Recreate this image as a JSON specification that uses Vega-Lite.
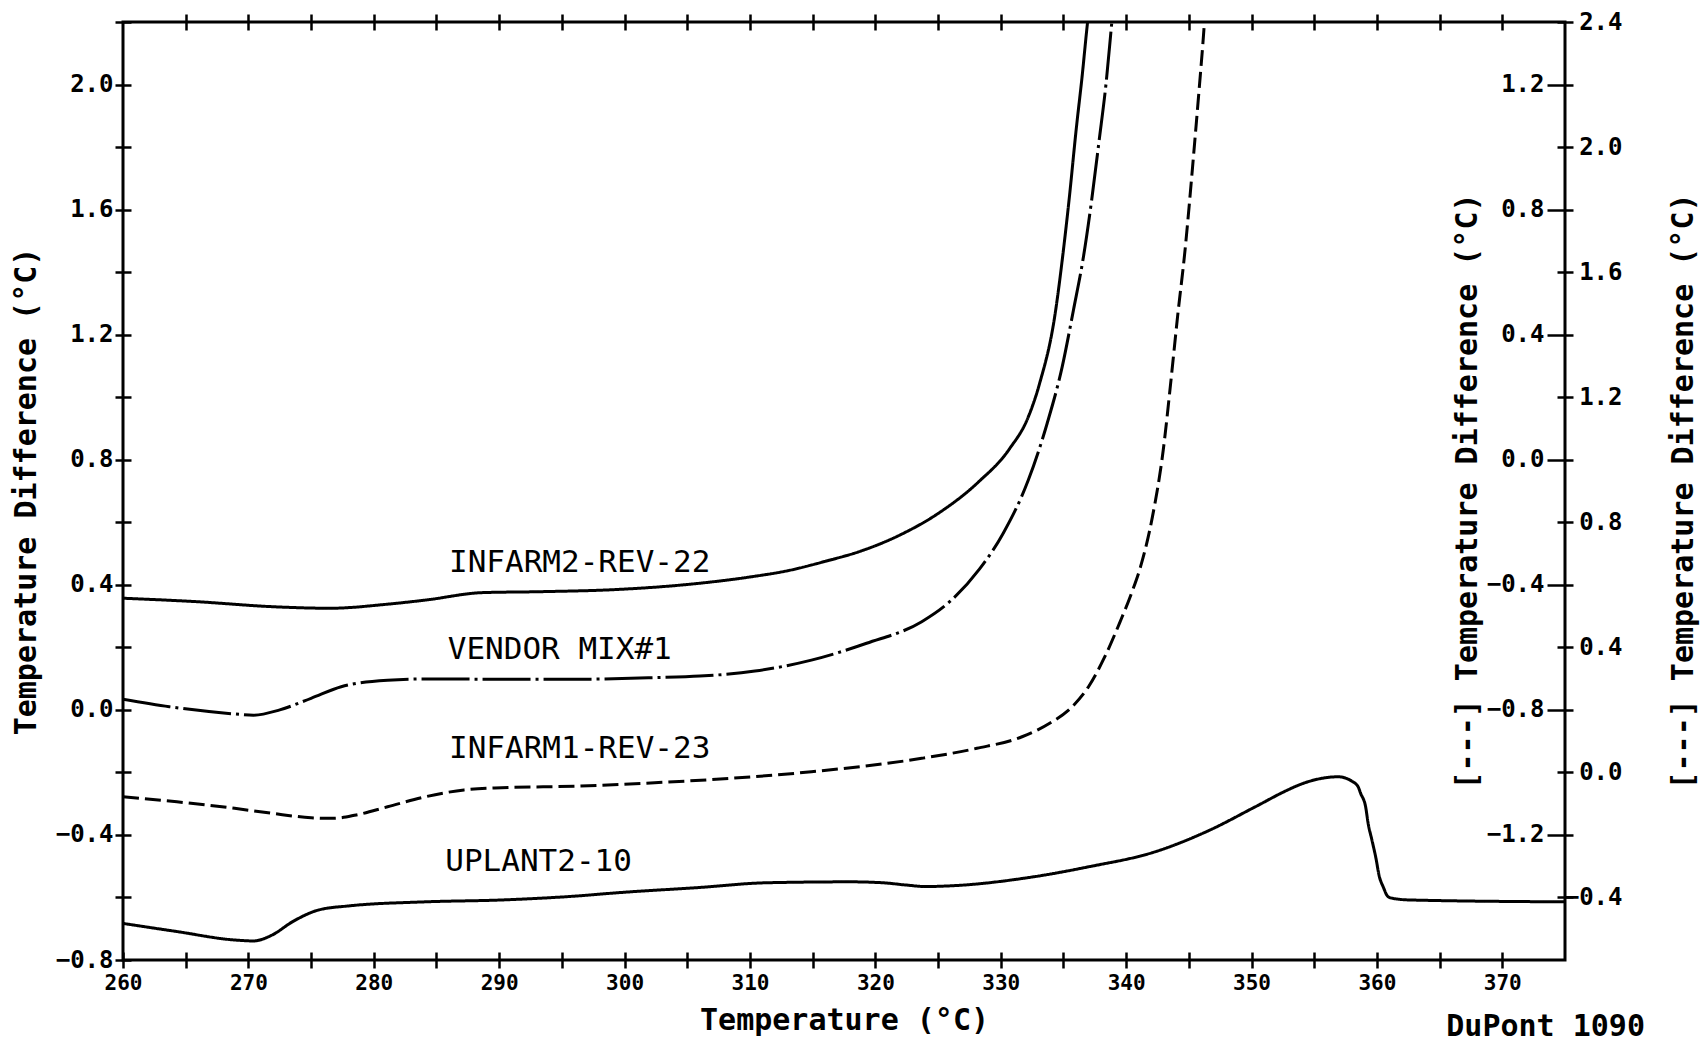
{
  "$schema": "https://vega.github.io/schema/vega-lite/v6.json",
  "width": 1442,
  "height": 938,
  "autosize": "none",
  "padding": {"left": 123, "top": 22, "right": 142, "bottom": 85},
  "background": "white",
  "title": {"text": "DuPont 1090", "orient": "bottom", "anchor": "end", "frame": "group", "font": "DejaVu Sans Mono", "fontSize": 30, "fontWeight": "bold", "color": "black", "offset": -23, "dx": 80},
  "config": {
    "view": {"stroke": "black", "strokeWidth": 3},
    "axis": {
      "labelFont": "DejaVu Sans Mono", "labelFontWeight": "bold", "labelFontSize": 24, "labelColor": "black",
      "titleFont": "DejaVu Sans Mono", "titleFontWeight": "bold", "titleFontSize": 30, "titleColor": "black",
      "tickColor": "black", "tickWidth": 2.5, "grid": false, "domain": false, "labelFlush": false, "labelOverlap": false
    }
  },
  "datasets": {
    "curves": [
      {"series": "INFARM2-REV-22", "T": 260, "dT": 0.357},
      {"series": "INFARM2-REV-22", "T": 265.9, "dT": 0.346},
      {"series": "INFARM2-REV-22", "T": 271.9, "dT": 0.330},
      {"series": "INFARM2-REV-22", "T": 276.5, "dT": 0.325},
      {"series": "INFARM2-REV-22", "T": 281.1, "dT": 0.338},
      {"series": "INFARM2-REV-22", "T": 284.1, "dT": 0.351},
      {"series": "INFARM2-REV-22", "T": 288.7, "dT": 0.375},
      {"series": "INFARM2-REV-22", "T": 293.3, "dT": 0.378},
      {"series": "INFARM2-REV-22", "T": 299.4, "dT": 0.385},
      {"series": "INFARM2-REV-22", "T": 306.0, "dT": 0.405},
      {"series": "INFARM2-REV-22", "T": 310.0, "dT": 0.425},
      {"series": "INFARM2-REV-22", "T": 313.0, "dT": 0.445},
      {"series": "INFARM2-REV-22", "T": 316.0, "dT": 0.475},
      {"series": "INFARM2-REV-22", "T": 319.0, "dT": 0.510},
      {"series": "INFARM2-REV-22", "T": 322.0, "dT": 0.560},
      {"series": "INFARM2-REV-22", "T": 325.0, "dT": 0.628},
      {"series": "INFARM2-REV-22", "T": 328.2, "dT": 0.728},
      {"series": "INFARM2-REV-22", "T": 330.7, "dT": 0.835},
      {"series": "INFARM2-REV-22", "T": 332.2, "dT": 0.937},
      {"series": "INFARM2-REV-22", "T": 333.1, "dT": 1.044},
      {"series": "INFARM2-REV-22", "T": 334.3, "dT": 1.257},
      {"series": "INFARM2-REV-22", "T": 335.0, "dT": 1.471},
      {"series": "INFARM2-REV-22", "T": 335.5, "dT": 1.650},
      {"series": "INFARM2-REV-22", "T": 336.0, "dT": 1.850},
      {"series": "INFARM2-REV-22", "T": 336.5, "dT": 2.030},
      {"series": "INFARM2-REV-22", "T": 336.9, "dT": 2.190},
      {"series": "INFARM2-REV-22", "T": 337.1, "dT": 2.260},
      {"series": "VENDOR MIX#1", "T": 260, "dT": 0.034},
      {"series": "VENDOR MIX#1", "T": 263.7, "dT": 0.010},
      {"series": "VENDOR MIX#1", "T": 268.9, "dT": -0.013},
      {"series": "VENDOR MIX#1", "T": 270.4, "dT": -0.017},
      {"series": "VENDOR MIX#1", "T": 272.5, "dT": 0.000},
      {"series": "VENDOR MIX#1", "T": 275.0, "dT": 0.037},
      {"series": "VENDOR MIX#1", "T": 277.4, "dT": 0.074},
      {"series": "VENDOR MIX#1", "T": 281.1, "dT": 0.095},
      {"series": "VENDOR MIX#1", "T": 284.1, "dT": 0.099},
      {"series": "VENDOR MIX#1", "T": 290.2, "dT": 0.098},
      {"series": "VENDOR MIX#1", "T": 296.3, "dT": 0.098},
      {"series": "VENDOR MIX#1", "T": 302.4, "dT": 0.103},
      {"series": "VENDOR MIX#1", "T": 306.0, "dT": 0.108},
      {"series": "VENDOR MIX#1", "T": 310.4, "dT": 0.124},
      {"series": "VENDOR MIX#1", "T": 314.9, "dT": 0.159},
      {"series": "VENDOR MIX#1", "T": 319.3, "dT": 0.213},
      {"series": "VENDOR MIX#1", "T": 323.7, "dT": 0.282},
      {"series": "VENDOR MIX#1", "T": 325.9, "dT": 0.345},
      {"series": "VENDOR MIX#1", "T": 328.3, "dT": 0.450},
      {"series": "VENDOR MIX#1", "T": 330.2, "dT": 0.565},
      {"series": "VENDOR MIX#1", "T": 332.2, "dT": 0.735},
      {"series": "VENDOR MIX#1", "T": 333.7, "dT": 0.916},
      {"series": "VENDOR MIX#1", "T": 334.9, "dT": 1.097},
      {"series": "VENDOR MIX#1", "T": 335.8, "dT": 1.279},
      {"series": "VENDOR MIX#1", "T": 336.6, "dT": 1.450},
      {"series": "VENDOR MIX#1", "T": 337.25, "dT": 1.630},
      {"series": "VENDOR MIX#1", "T": 337.85, "dT": 1.822},
      {"series": "VENDOR MIX#1", "T": 338.4, "dT": 2.004},
      {"series": "VENDOR MIX#1", "T": 338.8, "dT": 2.174},
      {"series": "VENDOR MIX#1", "T": 339.0, "dT": 2.260},
      {"series": "INFARM1-REV-23", "T": 260, "dT": -0.278},
      {"series": "INFARM1-REV-23", "T": 264.3, "dT": -0.294},
      {"series": "INFARM1-REV-23", "T": 268.9, "dT": -0.315},
      {"series": "INFARM1-REV-23", "T": 271.9, "dT": -0.331},
      {"series": "INFARM1-REV-23", "T": 275.0, "dT": -0.345},
      {"series": "INFARM1-REV-23", "T": 276.8, "dT": -0.347},
      {"series": "INFARM1-REV-23", "T": 278.6, "dT": -0.336},
      {"series": "INFARM1-REV-23", "T": 281.1, "dT": -0.310},
      {"series": "INFARM1-REV-23", "T": 284.1, "dT": -0.278},
      {"series": "INFARM1-REV-23", "T": 287.2, "dT": -0.256},
      {"series": "INFARM1-REV-23", "T": 290.2, "dT": -0.249},
      {"series": "INFARM1-REV-23", "T": 296.3, "dT": -0.244},
      {"series": "INFARM1-REV-23", "T": 302.4, "dT": -0.233},
      {"series": "INFARM1-REV-23", "T": 307.3, "dT": -0.222},
      {"series": "INFARM1-REV-23", "T": 314.9, "dT": -0.198},
      {"series": "INFARM1-REV-23", "T": 323.7, "dT": -0.155},
      {"series": "INFARM1-REV-23", "T": 328.1, "dT": -0.123},
      {"series": "INFARM1-REV-23", "T": 331.7, "dT": -0.086},
      {"series": "INFARM1-REV-23", "T": 333.9, "dT": -0.043},
      {"series": "INFARM1-REV-23", "T": 335.7, "dT": 0.010},
      {"series": "INFARM1-REV-23", "T": 337.0, "dT": 0.074},
      {"series": "INFARM1-REV-23", "T": 338.3, "dT": 0.170},
      {"series": "INFARM1-REV-23", "T": 339.5, "dT": 0.280},
      {"series": "INFARM1-REV-23", "T": 340.4, "dT": 0.370},
      {"series": "INFARM1-REV-23", "T": 341.15, "dT": 0.458},
      {"series": "INFARM1-REV-23", "T": 342.1, "dT": 0.618},
      {"series": "INFARM1-REV-23", "T": 342.96, "dT": 0.831},
      {"series": "INFARM1-REV-23", "T": 343.55, "dT": 1.044},
      {"series": "INFARM1-REV-23", "T": 344.1, "dT": 1.257},
      {"series": "INFARM1-REV-23", "T": 344.7, "dT": 1.471},
      {"series": "INFARM1-REV-23", "T": 345.3, "dT": 1.737},
      {"series": "INFARM1-REV-23", "T": 345.75, "dT": 1.950},
      {"series": "INFARM1-REV-23", "T": 346.2, "dT": 2.174},
      {"series": "INFARM1-REV-23", "T": 346.35, "dT": 2.260},
      {"series": "UPLANT2-10", "T": 260, "dT": -0.683},
      {"series": "UPLANT2-10", "T": 264.3, "dT": -0.709},
      {"series": "UPLANT2-10", "T": 268.9, "dT": -0.736},
      {"series": "UPLANT2-10", "T": 270.4, "dT": -0.739},
      {"series": "UPLANT2-10", "T": 271.9, "dT": -0.720},
      {"series": "UPLANT2-10", "T": 273.5, "dT": -0.678},
      {"series": "UPLANT2-10", "T": 275.6, "dT": -0.640},
      {"series": "UPLANT2-10", "T": 278.0, "dT": -0.627},
      {"series": "UPLANT2-10", "T": 284.1, "dT": -0.614},
      {"series": "UPLANT2-10", "T": 290.2, "dT": -0.608},
      {"series": "UPLANT2-10", "T": 296.3, "dT": -0.595},
      {"series": "UPLANT2-10", "T": 299.4, "dT": -0.585},
      {"series": "UPLANT2-10", "T": 306.0, "dT": -0.568},
      {"series": "UPLANT2-10", "T": 311.3, "dT": -0.553},
      {"series": "UPLANT2-10", "T": 318.0, "dT": -0.550},
      {"series": "UPLANT2-10", "T": 320.6, "dT": -0.553},
      {"series": "UPLANT2-10", "T": 322.4, "dT": -0.560},
      {"series": "UPLANT2-10", "T": 324.0, "dT": -0.565},
      {"series": "UPLANT2-10", "T": 325.9, "dT": -0.563},
      {"series": "UPLANT2-10", "T": 332.6, "dT": -0.534},
      {"series": "UPLANT2-10", "T": 337.0, "dT": -0.502},
      {"series": "UPLANT2-10", "T": 342.3, "dT": -0.454},
      {"series": "UPLANT2-10", "T": 346.7, "dT": -0.384},
      {"series": "UPLANT2-10", "T": 350.3, "dT": -0.310},
      {"series": "UPLANT2-10", "T": 352.9, "dT": -0.256},
      {"series": "UPLANT2-10", "T": 353.8, "dT": -0.240},
      {"series": "UPLANT2-10", "T": 355.6, "dT": -0.219},
      {"series": "UPLANT2-10", "T": 356.9, "dT": -0.214},
      {"series": "UPLANT2-10", "T": 358.0, "dT": -0.228},
      {"series": "UPLANT2-10", "T": 358.5, "dT": -0.246},
      {"series": "UPLANT2-10", "T": 358.7, "dT": -0.267},
      {"series": "UPLANT2-10", "T": 359.1, "dT": -0.310},
      {"series": "UPLANT2-10", "T": 359.3, "dT": -0.363},
      {"series": "UPLANT2-10", "T": 359.6, "dT": -0.416},
      {"series": "UPLANT2-10", "T": 359.9, "dT": -0.470},
      {"series": "UPLANT2-10", "T": 360.2, "dT": -0.534},
      {"series": "UPLANT2-10", "T": 360.5, "dT": -0.566},
      {"series": "UPLANT2-10", "T": 360.9, "dT": -0.598},
      {"series": "UPLANT2-10", "T": 361.3, "dT": -0.603},
      {"series": "UPLANT2-10", "T": 362.6, "dT": -0.608},
      {"series": "UPLANT2-10", "T": 375, "dT": -0.614}
    ],
    "labels": [
      {"label": "INFARM2-REV-22", "T": 286.0, "dT": 0.470},
      {"label": "VENDOR MIX#1", "T": 285.9, "dT": 0.191},
      {"label": "INFARM1-REV-23", "T": 286.0, "dT": -0.125},
      {"label": "UPLANT2-10", "T": 285.7, "dT": -0.487}
    ]
  },
  "layer": [
    {
      "data": {"name": "curves"},
      "mark": {"type": "line", "strokeWidth": 3, "color": "black", "interpolate": "monotone", "clip": true},
      "encoding": {
        "x": {
          "field": "T", "type": "quantitative",
          "scale": {"domain": [260, 375], "nice": false, "zero": false},
          "axis": {
            "orient": "bottom", "offset": -8, "tickSize": 16, "labelPadding": 4, "labelFontSize": 21,
            "values": [260,265,270,275,280,285,290,295,300,305,310,315,320,325,330,335,340,345,350,355,360,365,370],
            "labelExpr": "datum.value % 10 === 0 ? datum.label : ''",
            "title": "Temperature (°C)", "titlePadding": 12
          }
        },
        "y": {
          "field": "dT", "type": "quantitative",
          "scale": {"domain": [-0.8, 2.2], "nice": false, "zero": false},
          "axis": {
            "orient": "left", "offset": -8, "tickSize": 16, "labelPadding": 2, "format": ".1f",
            "values": [-0.8,-0.6,-0.4,-0.2,0,0.2,0.4,0.6,0.8,1.0,1.2,1.4,1.6,1.8,2.0,2.2],
            "labelExpr": "abs(round(datum.value*10)) % 4 === 0 ? datum.label : ''",
            "title": "Temperature Difference (°C)", "titlePadding": 14
          }
        },
        "detail": {"field": "series", "type": "nominal"},
        "strokeDash": {
          "field": "series", "type": "nominal",
          "scale": {"domain": ["INFARM2-REV-22", "VENDOR MIX#1", "INFARM1-REV-23", "UPLANT2-10"], "range": [[1, 0], [48, 5, 3, 5], [16, 6], [1, 0]]},
          "legend": null
        }
      }
    },
    {
      "data": {"name": "labels"},
      "mark": {"type": "text", "align": "left", "baseline": "middle", "font": "DejaVu Sans Mono", "fontSize": 31, "color": "black"},
      "encoding": {
        "x": {"field": "T", "type": "quantitative", "scale": {"domain": [260, 375], "nice": false, "zero": false}, "axis": null},
        "y": {"field": "dT", "type": "quantitative", "scale": {"domain": [-0.8, 2.2], "nice": false, "zero": false}, "axis": null},
        "text": {"field": "label", "type": "nominal"}
      }
    },
    {
      "data": {"name": "labels"},
      "mark": {"type": "point", "opacity": 0},
      "encoding": {
        "x": {"field": "T", "type": "quantitative", "scale": {"domain": [260, 375], "nice": false, "zero": false},
          "axis": {"orient": "top", "offset": -8, "tickSize": 16, "labels": false, "title": null,
            "values": [265,270,275,280,285,290,295,300,305,310,315,320,325,330,335,340,345,350,355,360,365,370]}},
        "y": {"field": "dT", "type": "quantitative", "scale": {"domain": [-0.8, 2.2], "nice": false, "zero": false}, "axis": null}
      }
    },
    {
      "data": {"name": "labels"},
      "mark": {"type": "point", "opacity": 0},
      "encoding": {
        "x": {"field": "T", "type": "quantitative", "scale": {"domain": [260, 375], "nice": false, "zero": false}, "axis": null},
        "y": {"field": "dT", "type": "quantitative", "scale": {"domain": [-1.6, 1.4], "nice": false, "zero": false},
          "axis": {"orient": "left", "offset": -1450, "tickSize": 26, "labelPadding": 3, "format": ".1f",
            "values": [-1.2,-0.8,-0.4,0,0.4,0.8,1.2],
            "title": "[---] Temperature Difference (°C)", "titlePadding": 4}}
      }
    },
    {
      "data": {"name": "labels"},
      "mark": {"type": "point", "opacity": 0},
      "encoding": {
        "x": {"field": "T", "type": "quantitative", "scale": {"domain": [260, 375], "nice": false, "zero": false}, "axis": null},
        "y": {"field": "dT", "type": "quantitative", "scale": {"domain": [-0.6, 2.4], "nice": false, "zero": false},
          "axis": {"orient": "right", "offset": -8, "tickSize": 16, "labelPadding": 49, "labelAlign": "right", "format": ".1f",
            "values": [-0.4,0,0.4,0.8,1.2,1.6,2.0,2.4],
            "title": "[---] Temperature Difference (°C)", "titlePadding": 76, "titleAngle": 270}}
      }
    }
  ],
  "resolve": {"scale": {"y": "independent"}, "axis": {"x": "independent", "y": "independent"}}
}
